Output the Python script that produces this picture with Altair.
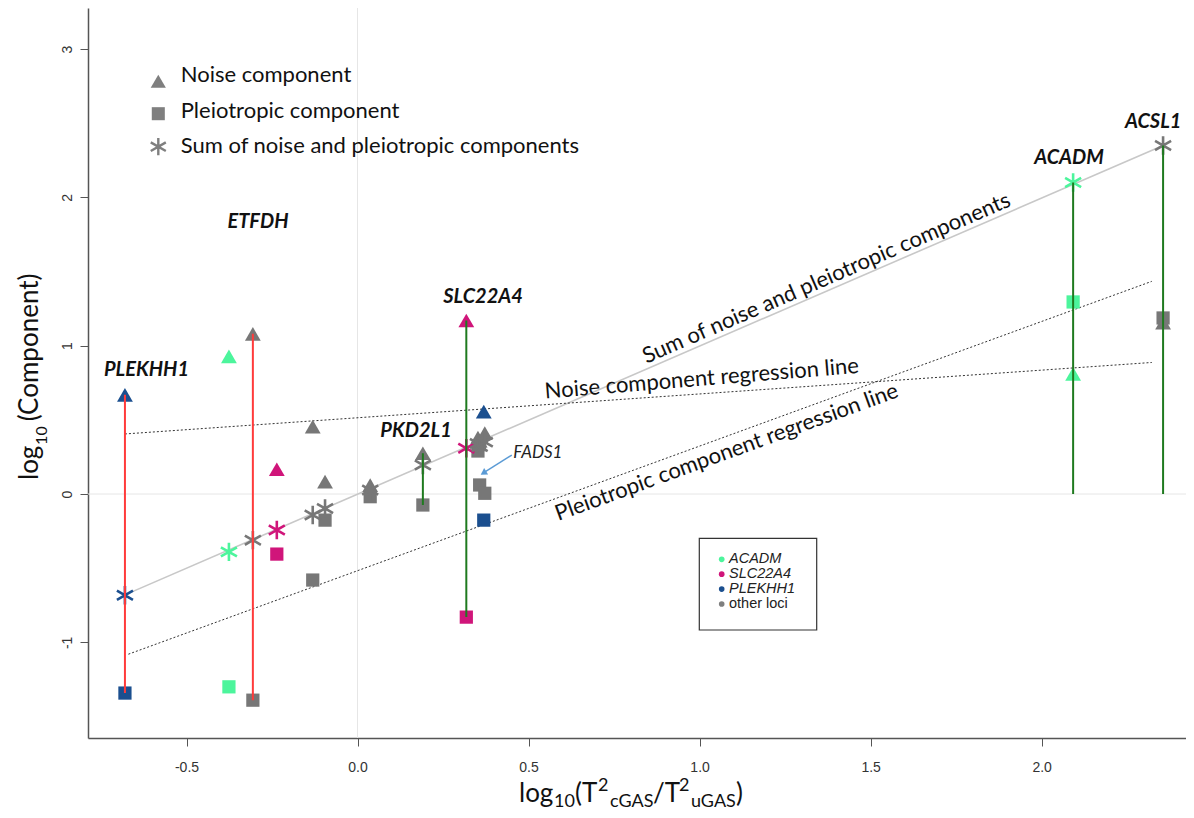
import math
import altair as alt
import pandas as pd

# ---------------- values ----------------
locus_x = [-0.680, -0.376, -0.306, -0.236, -0.131, -0.095, 0.037, 0.191, 0.318, 0.369, 0.352, 0.357, 0.372, 2.092, 2.355]
noise_y = [0.669, 0.928, 1.080, 0.167, 0.455, 0.083, 0.060, 0.275, 1.170, 0.556, 0.380, 0.360, 0.410, 0.810, 1.155]
pleio_y = [-1.342, -1.300, -1.390, -0.405, -0.580, -0.176, -0.018, -0.074, -0.830, -0.176, 0.290, 0.061, 0.005, 1.295, 1.187]
sum_y = [-0.682, -0.390, -0.311, -0.243, -0.142, -0.097, 0.027, 0.196, 0.309, None, 0.340, 0.320, 0.350, 2.100, 2.350]
locus_grp = ["PLEKHH1", "ACADM", "other", "SLC22A4", "other", "other", "other", "other",
             "SLC22A4", "PLEKHH1", "other", "other", "other", "ACADM", "other"]

seg_x = [-0.680, -0.306, 0.191, 0.318, 2.092, 2.355]
seg_top = [0.669, 1.080, 0.275, 1.170, 2.100, 2.350]
seg_bottom = [-1.342, -1.390, -0.074, -0.830, 0.0, 0.0]
seg_kind = ["red", "red", "green", "green", "green", "green"]

sum_line_x = [-0.680, 2.355]
sum_line_y = [-0.680, 2.350]
noise_line_x = [-0.680, 2.322]
noise_line_y = [0.405, 0.887]
pleio_line_x = [-0.670, 2.322]
pleio_line_y = [-1.080, 1.434]

gene_labels = ["PLEKHH1", "ETFDH", "SLC22A4", "PKD2L1", "ACADM", "ACSL1"]
gene_label_x = [-0.617, -0.291, 0.367, 0.171, 2.080, 2.326]
gene_label_y = [0.836, 1.834, 1.328, 0.425, 2.266, 2.508]

fads_label = "FADS1"
fads_label_xy = [0.527, 0.276]
fads_arrow_from = [0.451, 0.263]
fads_arrow_to = [0.368, 0.142]

x_ticks = [-0.5, 0.0, 0.5, 1.0, 1.5, 2.0]
y_ticks = [-1, 0, 1, 2, 3]

legend_groups = ["ACADM", "SLC22A4", "PLEKHH1", "other loci"]
legend_colors = ["#4CF59C", "#D0157A", "#1B4F8F", "#7F7F7F"]

# ---------------- layout / style ----------------
FONT = "Lato"
W, H = 1098, 730
X_DOMAIN = [-0.788, 2.422]
Y_DOMAIN = [-1.645, 3.277]
PX = W / (X_DOMAIN[1] - X_DOMAIN[0])
PY = H / (Y_DOMAIN[1] - Y_DOMAIN[0])
STAR = "M0,-1L0,1M-0.87,-0.5L0.87,0.5M-0.87,0.5L0.87,-0.5"

xs = alt.Scale(domain=X_DOMAIN, nice=False, zero=False)
ys = alt.Scale(domain=Y_DOMAIN, nice=False, zero=False)
gscale = alt.Scale(domain=["ACADM", "SLC22A4", "PLEKHH1", "other"],
                   range=["#4CF59C", "#D0157A", "#1B4F8F", "#777777"])

one = alt.Data(values=[{"a": 1}])

rows = []
for i, xv in enumerate(locus_x):
    for comp, vals in (("noise", noise_y), ("pleio", pleio_y), ("sum", sum_y)):
        v = vals[i]
        if v is not None:
            rows.append({"x": xv, "y": v, "component": comp, "group": locus_grp[i]})
pts = pd.DataFrame(rows)

minus_expr = "datum.value < 0 ? '-' + format(-datum.value, '{f}') : format(datum.value, '{f}')"
x_axis = alt.Axis(values=x_ticks, labelExpr=minus_expr.format(f=".1f"), title=None, grid=False,
                  tickSize=8, tickColor="#555", domainColor="#555", domainWidth=1.5,
                  labelFont="Liberation Sans", labelFontSize=14, labelColor="#333", labelPadding=14)
y_axis = alt.Axis(values=y_ticks, labelExpr=minus_expr.format(f="d"), title=None, grid=False,
                  tickSize=8, tickColor="#555", domainColor="#555", domainWidth=1.5,
                  labelFont="Liberation Sans", labelFontSize=14, labelColor="#333",
                  labelAngle=270, labelAlign="center", labelBaseline="bottom", labelPadding=6)

X = alt.X("x:Q", scale=xs, axis=x_axis)
Y = alt.Y("y:Q", scale=ys, axis=y_axis)
COL = alt.Color("group:N", scale=gscale, legend=None)

layers = []

# light reference lines at 0
layers.append(alt.Chart(pd.DataFrame({"x": [0.0]})).mark_rule(color="#E6E6E6", strokeWidth=1).encode(x=X))
layers.append(alt.Chart(pd.DataFrame({"y": [0.0]})).mark_rule(color="#E6E6E6", strokeWidth=1).encode(y=Y))

# regression lines
def line_df(xx, yy):
    return pd.DataFrame({"x": [xx[0]], "y": [yy[0]], "x2": [xx[1]], "y2": [yy[1]]})

layers.append(alt.Chart(line_df(sum_line_x, sum_line_y)).mark_rule(color="#C8C8C8", strokeWidth=1.6)
              .encode(x=X, y=Y, x2="x2:Q", y2="y2:Q"))
for lx, ly in ((noise_line_x, noise_line_y), (pleio_line_x, pleio_line_y)):
    layers.append(alt.Chart(line_df(lx, ly)).mark_rule(color="#333333", strokeWidth=1, strokeDash=[2, 2])
                  .encode(x=X, y=Y, x2="x2:Q", y2="y2:Q"))

# points
base = alt.Chart(pts)
layers.append(base.transform_filter(alt.datum.component == "noise")
              .mark_point(shape="triangle-up", filled=True, size=250, opacity=1)
              .encode(x=X, y=Y, color=COL))
layers.append(base.transform_filter(alt.datum.component == "pleio")
              .mark_point(shape="square", filled=True, size=175, opacity=1)
              .encode(x=X, y=Y, color=COL))
layers.append(base.transform_filter(alt.datum.component == "sum")
              .mark_point(shape=STAR, filled=False, size=340, strokeWidth=2.6, opacity=1)
              .encode(x=X, y=Y, color=COL))

# vertical segments
segs = pd.DataFrame({"x": seg_x, "y": seg_top, "y2": seg_bottom, "kind": seg_kind})
layers.append(alt.Chart(segs).mark_rule(strokeWidth=2).encode(
    x=X, y=Y, y2="y2:Q",
    stroke=alt.Stroke("kind:N", scale=alt.Scale(domain=["red", "green"], range=["#FF3B3B", "#1F7A1F"]), legend=None)))

# gene labels
glab = pd.DataFrame({"x": gene_label_x, "y": gene_label_y, "t": gene_labels})
layers.append(alt.Chart(glab).mark_text(font=FONT, fontSize=20, fontWeight="bold", fontStyle="italic",
                                        color="#111", align="center", baseline="middle")
              .encode(x=X, y=Y, text="t:N"))

# FADS1 annotation
layers.append(alt.Chart(pd.DataFrame({"x": [fads_label_xy[0]], "y": [fads_label_xy[1]], "t": [fads_label]}))
              .mark_text(font=FONT, fontSize=17, fontStyle="italic", color="#222", align="center", baseline="middle")
              .encode(x=X, y=Y, text="t:N"))
layers.append(alt.Chart(pd.DataFrame({"x": [fads_arrow_from[0]], "y": [fads_arrow_from[1]],
                                      "x2": [fads_arrow_to[0]], "y2": [fads_arrow_to[1]]}))
              .mark_rule(color="#5B9BD5", strokeWidth=1.5).encode(x=X, y=Y, x2="x2:Q", y2="y2:Q"))
layers.append(alt.Chart(pd.DataFrame({"x": [fads_arrow_to[0]], "y": [fads_arrow_to[1]]}))
              .mark_point(shape="triangle-up", filled=True, size=55, angle=238, color="#5B9BD5", opacity=1)
              .encode(x=X, y=Y))

# line labels
def angle_of(xx, yy):
    return (360 - math.degrees(math.atan2((yy[1] - yy[0]) * PY, (xx[1] - xx[0]) * PX))) % 360

def on_line(xx, yy, xv):
    return yy[0] + (yy[1] - yy[0]) * (xv - xx[0]) / (xx[1] - xx[0])

def line_label(text, xx, yy, xv, baseline, dy, extra=0.0):
    return (alt.Chart(pd.DataFrame({"x": [xv], "y": [on_line(xx, yy, xv)], "t": [text]}))
            .mark_text(font=FONT, fontSize=22, color="#111", align="center", baseline=baseline, dy=dy,
                       angle=(angle_of(xx, yy) + extra) % 360)
            .encode(x=X, y=Y, text="t:N"))

layers.append(line_label("Sum of noise and pleiotropic components", sum_line_x, sum_line_y, 1.385, "alphabetic", -5))
layers.append(line_label("Noise component regression line", noise_line_x, noise_line_y, 1.01, "alphabetic", -8, -0.7))
layers.append(line_label("Pleiotropic component regression line", pleio_line_x, pleio_line_y, 1.064, "top", 5))

# top-left legend (pixel layout)
def txt(t, x, y, size, **kw):
    opts = dict(font=FONT, fontSize=size, color="#111", align="left", baseline="alphabetic")
    opts.update(kw)
    return alt.Chart(one).mark_text(text=t, **opts).encode(x=alt.value(x), y=alt.value(y))

layers.append(alt.Chart(one).mark_point(shape="triangle-up", filled=True, size=230, color="#7F7F7F", opacity=1)
              .encode(x=alt.value(70.3), y=alt.value(73.3)))
layers.append(alt.Chart(one).mark_point(shape="square", filled=True, size=170, color="#7F7F7F", opacity=1)
              .encode(x=alt.value(70.3), y=alt.value(105.7)))
layers.append(alt.Chart(one).mark_point(shape=STAR, filled=False, size=300, strokeWidth=2.4, color="#7F7F7F", opacity=1)
              .encode(x=alt.value(70.3), y=alt.value(138.7)))
layers.append(txt("Noise component", 92.7, 74.3, 22))
layers.append(txt("Pleiotropic component", 92.7, 110.3, 22))
layers.append(txt("Sum of noise and pleiotropic components", 92.7, 144.7, 22))

# bottom-right legend box
layers.append(alt.Chart(one).mark_rect(fill="white", stroke="#333", strokeWidth=1.2)
              .encode(x=alt.value(611.3), x2=alt.value(728.7), y=alt.value(530.3), y2=alt.value(622)))
for k, (g, c) in enumerate(zip(legend_groups, legend_colors)):
    yy = 551.3 + 14.9 * k
    layers.append(alt.Chart(one).mark_circle(size=32, color=c, opacity=1)
                  .encode(x=alt.value(633.7), y=alt.value(yy)))
    style = "normal" if g == "other loci" else "italic"
    layers.append(txt(g, 641, yy, 14.5, font="Liberation Sans", fontStyle=style, baseline="middle", color="#222"))

# axis titles with sub/superscripts
for t, x, y, s in [("log", 431, 794, 26), ("10", 466, 799, 18), ("(T", 487, 794, 26), ("2", 510, 783, 18),
                   ("cGAS", 522, 799, 18), ("/T", 565, 794, 26), ("2", 591, 783, 18),
                   ("uGAS", 603, 799, 18), (")", 648, 794, 26)]:
    layers.append(txt(t, x, y, s))
for t, x, y, s in [("log", -50, 472, 26), ("10", -41, 436.9, 16), ("(Component)", -50, 413.3, 26)]:
    layers.append(txt(t, x, y, s, angle=270))

chart = (alt.layer(*layers)
         .properties(width=W, height=H, padding={"left": 80, "top": 0, "right": 0, "bottom": 72},
                     autosize=alt.AutoSizeParams(type="none"), background="white")
         .configure_view(strokeWidth=0))

chart.save("out.html", embed_options={"renderer": "svg", "actions": False})
